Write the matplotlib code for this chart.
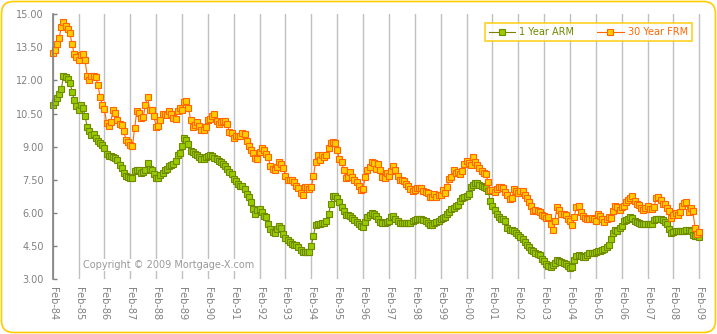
import numpy as np
import matplotlib
matplotlib.use('Agg')
import matplotlib.pyplot as plt
from matplotlib.patches import FancyBboxPatch

# monthly averages, Feb-84 .. Feb-09
tick_labels = ['Feb-84', 'Feb-85', 'Feb-86', 'Feb-87', 'Feb-88', 'Feb-89', 'Feb-90',
               'Feb-91', 'Feb-92', 'Feb-93', 'Feb-94', 'Feb-95', 'Feb-96', 'Feb-97',
               'Feb-98', 'Feb-99', 'Feb-00', 'Feb-01', 'Feb-02', 'Feb-03', 'Feb-04',
               'Feb-05', 'Feb-06', 'Feb-07', 'Feb-08', 'Feb-09']
y_ticks = [3.00, 4.50, 6.00, 7.50, 9.00, 10.50, 12.00, 13.50, 15.00]

arm_1yr = [
    10.89, 11.03, 11.20, 11.40, 11.60, 12.20, 12.17, 12.05, 11.90, 11.50,
    11.10, 10.86, 10.65, 10.87, 10.75, 10.40, 9.90, 9.73, 9.54, 9.56,
    9.40, 9.25, 9.15, 9.08, 8.96, 8.65, 8.56, 8.57, 8.55, 8.47,
    8.40, 8.18, 8.05, 7.80, 7.68, 7.62, 7.57, 7.58, 7.88, 7.95,
    7.93, 7.82, 7.85, 7.96, 8.28, 8.00, 7.95, 7.75, 7.58, 7.58,
    7.70, 7.80, 7.92, 8.00, 8.12, 8.15, 8.20, 8.35, 8.60, 8.70,
    9.05, 9.39, 9.30, 9.10, 8.80, 8.74, 8.68, 8.62, 8.55, 8.45,
    8.43, 8.55, 8.59, 8.61, 8.57, 8.48, 8.42, 8.36, 8.30, 8.22,
    8.14, 8.00, 7.85, 7.76, 7.55, 7.45, 7.30, 7.22, 7.23, 7.10,
    6.87, 6.73, 6.50, 6.19, 5.93, 6.15, 6.19, 6.02, 5.87, 5.80,
    5.50, 5.25, 5.15, 5.10, 5.25, 5.40, 5.30, 5.05, 4.87, 4.78,
    4.69, 4.60, 4.55, 4.52, 4.44, 4.32, 4.24, 4.23, 4.23, 4.24,
    4.50, 4.97, 5.45, 5.48, 5.50, 5.52, 5.54, 5.62, 5.95, 6.40,
    6.75, 6.75, 6.65, 6.50, 6.25, 6.08, 5.92, 5.90, 5.86, 5.77,
    5.67, 5.60, 5.50, 5.40, 5.38, 5.60, 5.80, 5.90, 6.00, 5.93,
    5.87, 5.72, 5.58, 5.55, 5.55, 5.58, 5.63, 5.83, 5.86, 5.72,
    5.65, 5.56, 5.53, 5.52, 5.52, 5.54, 5.56, 5.62, 5.68, 5.71,
    5.71, 5.71, 5.68, 5.62, 5.55, 5.46, 5.45, 5.52, 5.58, 5.64,
    5.72, 5.78, 5.82, 5.95, 6.05, 6.18, 6.22, 6.30, 6.37, 6.55,
    6.65, 6.73, 6.77, 6.85, 7.15, 7.28, 7.33, 7.33, 7.28, 7.23,
    7.19, 7.11, 7.00, 6.55, 6.30, 6.15, 5.95, 5.82, 5.73, 5.72,
    5.62, 5.30, 5.23, 5.20, 5.16, 5.08, 5.00, 4.90, 4.82, 4.70,
    4.52, 4.45, 4.33, 4.25, 4.19, 4.13, 4.08, 3.90, 3.80, 3.70,
    3.61, 3.55, 3.62, 3.74, 3.85, 3.82, 3.79, 3.74, 3.70, 3.60,
    3.50, 3.55, 3.85, 4.05, 4.09, 4.05, 4.00, 4.01, 4.10, 4.18,
    4.20, 4.20, 4.22, 4.25, 4.25, 4.30, 4.36, 4.45, 4.52, 4.80,
    5.10, 5.20, 5.19, 5.30, 5.40, 5.63, 5.68, 5.72, 5.80, 5.75,
    5.62, 5.58, 5.52, 5.48, 5.48, 5.48, 5.48, 5.48, 5.49, 5.68,
    5.72, 5.72, 5.70, 5.68, 5.60, 5.49, 5.28, 5.10, 5.15, 5.19,
    5.19, 5.16, 5.16, 5.18, 5.22, 5.24, 5.19, 5.00, 4.95, 4.95, 4.90]

frm_30yr = [
    13.23, 13.39, 13.65, 13.94, 14.42, 14.67, 14.47, 14.35, 14.13, 13.64, 13.18,
    13.08, 12.92, 13.17, 13.20, 12.91, 12.22, 12.03, 12.19, 12.19, 12.14, 11.78, 11.26,
    10.88, 10.71, 10.08, 9.94, 10.14, 10.68, 10.51, 10.20, 10.01, 9.98, 9.70, 9.32,
    9.20, 9.08, 9.04, 9.83, 10.60, 10.54, 10.28, 10.33, 10.89, 11.26, 10.65, 10.64,
    10.38, 9.89, 9.93, 10.20, 10.46, 10.46, 10.43, 10.60, 10.48, 10.30, 10.27, 10.61,
    10.73, 10.65, 11.03, 11.05, 10.77, 10.20, 9.88, 9.99, 10.13, 9.95, 9.77, 9.74,
    9.90, 10.20, 10.27, 10.37, 10.48, 10.16, 10.04, 10.10, 10.18, 10.18, 10.01, 9.67,
    9.64, 9.37, 9.50, 9.49, 9.47, 9.62, 9.58, 9.24, 9.01, 8.86, 8.71, 8.50,
    8.43, 8.76, 8.94, 8.85, 8.67, 8.51, 8.13, 7.98, 7.92, 8.09, 8.31, 8.22,
    8.02, 7.68, 7.50, 7.47, 7.47, 7.42, 7.21, 7.11, 6.92, 6.83, 7.16, 7.17,
    7.06, 7.15, 7.68, 8.32, 8.60, 8.40, 8.61, 8.51, 8.64, 8.93, 9.17, 9.20,
    9.15, 8.83, 8.46, 8.32, 7.96, 7.57, 7.61, 7.86, 7.64, 7.48, 7.38, 7.20,
    7.03, 7.08, 7.62, 7.93, 8.07, 8.32, 8.25, 8.00, 8.23, 7.92, 7.62, 7.60,
    7.82, 7.65, 7.90, 8.14, 7.94, 7.69, 7.50, 7.48, 7.43, 7.29, 7.21, 7.10,
    6.99, 7.04, 7.13, 7.14, 7.14, 7.00, 6.95, 6.92, 6.72, 6.71, 6.87, 6.72,
    6.79, 6.81, 7.04, 6.92, 7.15, 7.55, 7.63, 7.94, 7.82, 7.85, 7.74, 7.91,
    8.21, 8.33, 8.24, 8.15, 8.52, 8.29, 8.15, 8.03, 7.91, 7.80, 7.75, 7.38,
    7.03, 7.05, 6.95, 7.08, 7.15, 7.16, 7.13, 6.95, 6.82, 6.62, 6.66, 7.07,
    7.00, 6.89, 7.01, 6.99, 6.81, 6.65, 6.49, 6.29, 6.09, 6.11, 6.07, 6.05,
    5.92, 5.84, 5.75, 5.81, 5.48, 5.23, 5.63, 6.26, 6.15, 5.95, 5.93, 5.88,
    5.74, 5.64, 5.45, 5.83, 6.27, 6.29, 6.06, 5.87, 5.75, 5.72, 5.73, 5.75,
    5.71, 5.63, 5.93, 5.86, 5.72, 5.58, 5.70, 5.82, 5.77, 6.07, 6.33, 6.27,
    6.15, 6.25, 6.32, 6.51, 6.60, 6.68, 6.76, 6.52, 6.40, 6.36, 6.24, 6.14,
    6.22, 6.29, 6.16, 6.18, 6.26, 6.66, 6.70, 6.57, 6.38, 6.38, 6.21, 6.10,
    5.76, 5.92, 5.97, 5.92, 6.04, 6.32, 6.43, 6.48, 6.04, 6.20, 6.09, 5.33,
    5.06, 5.13]

W, H = 717, 334
fig = plt.figure(figsize=(W / 100, H / 100), dpi=100)

# rounded gold frame
bg = fig.add_axes([0, 0, 1, 1], zorder=-1)
bg.set_xlim(0, W)
bg.set_ylim(H, 0)
bg.axis('off')
bg.add_patch(FancyBboxPatch((1.5, 1.5), W - 3, H - 3,
                            boxstyle='round,pad=0,rounding_size=12',
                            fc='white', ec='#FFCC00', lw=1.2))

left, right, top, bottom = 52.7, 703, 14.3, 279
ax = fig.add_axes([left / W, 1 - bottom / H, (right - left) / W, (bottom - top) / H])
ax.patch.set_alpha(0)

x = np.arange(len(frm_30yr))
ax.plot(x, arm_1yr, color='#808000', lw=0.8, marker='s', ms=5,
        mfc='#99CC00', mec='#6F8A00', mew=0.8, clip_on=False, label='1 Year ARM')
ax.plot(x, frm_30yr, color='#FF6600', lw=0.8, marker='s', ms=5,
        mfc='#FFCC00', mec='#FF6600', mew=0.8, clip_on=False, label='30 Year FRM')

ax.set_ylim(3, 15)
ax.set_xlim(0, (right - left) / ((699.3 - left) / 300))
ax.set_yticks(y_ticks)
ax.set_yticklabels(['%.2f' % v for v in y_ticks])
ax.set_xticks(np.arange(0, len(x), 12))
ax.set_xticklabels(tick_labels, rotation=-90)

for s in ['top', 'right', 'bottom']:
    ax.spines[s].set_visible(False)
ax.spines['left'].set_color('#808080')
ax.spines['left'].set_linewidth(1.2)

ax.tick_params(axis='y', direction='in', length=3, width=1, color='#808080',
               labelsize=7, labelcolor='#808080', pad=6.5)
ax.tick_params(axis='x', length=0, labelsize=7, labelcolor='#808080', pad=6)
ax.set_axisbelow(True)
ax.grid(axis='x', color='#C0C0C0', lw=1.0)

leg = ax.legend(loc='upper right', bbox_to_anchor=(692 / W, 1 - 22.7 / H),
                bbox_transform=fig.transFigure, ncol=2, fontsize=7,
                frameon=True, fancybox=False, edgecolor='#FFCC00',
                handlelength=2.7, handletextpad=0.4, columnspacing=2.4,
                borderpad=0.45, borderaxespad=0)
leg.get_frame().set_linewidth(1.3)
for t, c in zip(leg.get_texts(), ['#6F8A00', '#FF6600']):
    t.set_color(c)

fig.text(83 / W, 1 - 265 / H, 'Copyright © 2009 Mortgage-X.com', fontsize=7,
         color='#999999', ha='left', va='center',
         bbox=dict(fc='white', ec='none', pad=1))

fig.savefig('out.png', dpi=100)
